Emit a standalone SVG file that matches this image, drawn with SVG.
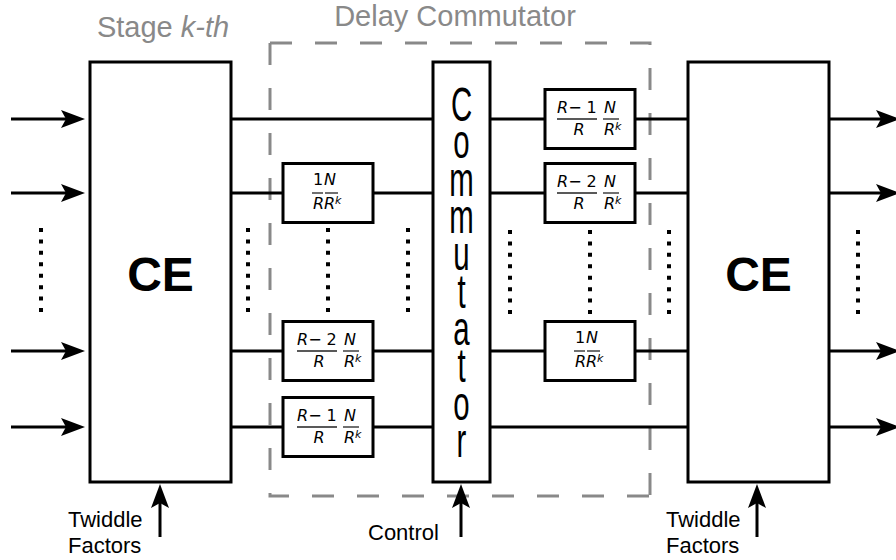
<svg xmlns="http://www.w3.org/2000/svg" width="896" height="560" viewBox="0 0 896 560">
  <style>
    .box { fill: #ffffff; stroke: #000000; stroke-width: 3; }
    .wire { fill: none; stroke: #000000; stroke-width: 3; }
    .dots { fill: none; stroke: #000000; stroke-width: 4; stroke-dasharray: 4 7.43; }
    .dash { fill: none; stroke: #898989; stroke-width: 3; stroke-dasharray: 22 23; }
    .bar { fill: none; stroke: #222222; stroke-width: 1.3; }
    .glabel { font-family: "Liberation Sans", Arial, sans-serif; font-size: 29px; fill: #898989; }
    .label { font-family: "Liberation Sans", Arial, sans-serif; font-size: 22px; fill: #000000; }
    .ce { font-family: "Liberation Sans", Arial, sans-serif; font-size: 48px; font-weight: bold; fill: #000000; text-anchor: middle; }
    .comm { font-family: "Liberation Sans", Arial, sans-serif; font-size: 49px; fill: #000000; text-anchor: middle; }
    .f { font-family: "DejaVu Sans", sans-serif; font-size: 16px; fill: #000000; }
    .fi { font-family: "DejaVu Sans", sans-serif; font-size: 16px; font-style: italic; fill: #000000; }
    .sup { font-family: "DejaVu Sans", sans-serif; font-size: 11px; font-style: italic; fill: #000000; }
  </style>
  <defs>
    <marker id="arrow" markerUnits="userSpaceOnUse" markerWidth="26" markerHeight="20" refX="12" refY="9" orient="auto" viewBox="0 0 26 20">
      <path d="M0,0 L24,9 L0,18 L5,9 Z" fill="#000000"/>
    </marker>
  </defs>

  <!-- labels -->
  <g id="label-stage">
    <text class="glabel" x="163" y="37" text-anchor="middle">Stage <tspan font-style="italic">k-th</tspan></text>
  </g>
  <g id="label-delay">
    <text class="glabel" x="455" y="26" text-anchor="middle">Delay Commutator</text>
  </g>
  <g id="delay-commutator-frame">
    <path class="dash" d="M270,43 H650 V496"/>
    <path class="dash" d="M270,43 V496 H650"/>
  </g>

  <!-- connectors -->
  <g id="connectors">
    <!-- inputs -->
    <line class="wire" x1="11" y1="119" x2="73" y2="119" marker-end="url(#arrow)"/>
    <line class="wire" x1="11" y1="193" x2="73" y2="193" marker-end="url(#arrow)"/>
    <line class="wire" x1="11" y1="351" x2="73" y2="351" marker-end="url(#arrow)"/>
    <line class="wire" x1="11" y1="427" x2="73" y2="427" marker-end="url(#arrow)"/>
    <!-- left CE to commutator -->
    <line class="wire" x1="231" y1="119" x2="433" y2="119"/>
    <line class="wire" x1="231" y1="193" x2="283" y2="193"/>
    <line class="wire" x1="373" y1="193" x2="433" y2="193"/>
    <line class="wire" x1="231" y1="351" x2="283" y2="351"/>
    <line class="wire" x1="373" y1="351" x2="433" y2="351"/>
    <line class="wire" x1="231" y1="427" x2="283" y2="427"/>
    <line class="wire" x1="373" y1="427" x2="433" y2="427"/>
    <!-- commutator to right CE -->
    <line class="wire" x1="490" y1="119" x2="545" y2="119"/>
    <line class="wire" x1="635" y1="119" x2="688" y2="119"/>
    <line class="wire" x1="490" y1="193" x2="545" y2="193"/>
    <line class="wire" x1="635" y1="193" x2="688" y2="193"/>
    <line class="wire" x1="490" y1="351" x2="545" y2="351"/>
    <line class="wire" x1="635" y1="351" x2="688" y2="351"/>
    <line class="wire" x1="490" y1="427" x2="688" y2="427"/>
    <!-- outputs -->
    <line class="wire" x1="829" y1="119" x2="888" y2="119" marker-end="url(#arrow)"/>
    <line class="wire" x1="829" y1="193" x2="888" y2="193" marker-end="url(#arrow)"/>
    <line class="wire" x1="829" y1="351" x2="888" y2="351" marker-end="url(#arrow)"/>
    <line class="wire" x1="829" y1="427" x2="888" y2="427" marker-end="url(#arrow)"/>
    <!-- control arrows -->
    <line class="wire" x1="160" y1="537" x2="160" y2="496" marker-end="url(#arrow)"/>
    <line class="wire" x1="461" y1="537" x2="461" y2="496" marker-end="url(#arrow)"/>
    <line class="wire" x1="757" y1="537" x2="757" y2="496" marker-end="url(#arrow)"/>
    <!-- ellipsis dots -->
    <line class="dots" x1="41" y1="228" x2="41" y2="313"/>
    <line class="dots" x1="248" y1="228" x2="248" y2="313"/>
    <line class="dots" x1="328" y1="228" x2="328" y2="313"/>
    <line class="dots" x1="408" y1="228" x2="408" y2="313"/>
    <line class="dots" x1="510" y1="230" x2="510" y2="315"/>
    <line class="dots" x1="590" y1="230" x2="590" y2="315"/>
    <line class="dots" x1="669" y1="230" x2="669" y2="315"/>
    <line class="dots" x1="858" y1="230" x2="858" y2="315"/>
  </g>

  <!-- CE blocks -->
  <g id="ce-left">
    <rect class="box" x="90" y="62" width="141" height="420"/>
    <text class="ce" x="160.5" y="291">CE</text>
  </g>
  <g id="ce-right">
    <rect class="box" x="688" y="62" width="141" height="420"/>
    <text class="ce" x="758.5" y="291">CE</text>
  </g>

  <!-- Commutator -->
  <g id="commutator">
    <rect class="box" x="433" y="62" width="57" height="420"/>
    <g transform="translate(461.5,0) scale(0.6,1)">
      <text class="comm"><tspan x="0" y="121">C</tspan><tspan x="0" y="158.5">o</tspan><tspan x="0" y="196">m</tspan><tspan x="0" y="233">m</tspan><tspan x="0" y="270.5">u</tspan><tspan x="0" y="308">t</tspan><tspan x="0" y="345">a</tspan><tspan x="0" y="382.5">t</tspan><tspan x="0" y="420">o</tspan><tspan x="0" y="457">r</tspan></text>
    </g>
  </g>

  <!-- Left delay boxes -->
  <g id="delay-l1">
    <rect class="box" x="283" y="163.5" width="90" height="59"/>
    <text class="f" x="313" y="185">1</text>
    <text class="fi" x="324" y="185">N</text>
    <line class="bar" x1="312" y1="193" x2="323" y2="193"/>
    <line class="bar" x1="325" y1="193" x2="338" y2="193"/>
    <text class="fi" x="313" y="209">R</text>
    <text class="fi" x="324" y="209">R</text>
    <text class="sup" x="335" y="204">k</text>
  </g>
  <g id="delay-l2">
    <rect class="box" x="283" y="321.5" width="90" height="59"/>
    <text class="f" x="297" y="345"><tspan font-style="italic">R</tspan>− 2</text>
    <line class="bar" x1="297" y1="351" x2="337" y2="351"/>
    <text class="fi" x="319" y="367" text-anchor="middle">R</text>
    <text class="fi" x="344" y="345">N</text>
    <line class="bar" x1="343" y1="351" x2="359" y2="351"/>
    <text class="fi" x="344" y="367">R</text>
    <text class="sup" x="355" y="362">k</text>
  </g>
  <g id="delay-l3">
    <rect class="box" x="283" y="397.5" width="90" height="59"/>
    <text class="f" x="297" y="421"><tspan font-style="italic">R</tspan>− 1</text>
    <line class="bar" x1="297" y1="427" x2="337" y2="427"/>
    <text class="fi" x="319" y="443" text-anchor="middle">R</text>
    <text class="fi" x="344" y="421">N</text>
    <line class="bar" x1="343" y1="427" x2="359" y2="427"/>
    <text class="fi" x="344" y="443">R</text>
    <text class="sup" x="355" y="438">k</text>
  </g>

  <!-- Right delay boxes -->
  <g id="delay-r1">
    <rect class="box" x="545" y="89.5" width="90" height="59"/>
    <text class="f" x="557" y="113"><tspan font-style="italic">R</tspan>− 1</text>
    <line class="bar" x1="557" y1="119" x2="597" y2="119"/>
    <text class="fi" x="579" y="135" text-anchor="middle">R</text>
    <text class="fi" x="604" y="113">N</text>
    <line class="bar" x1="603" y1="119" x2="619" y2="119"/>
    <text class="fi" x="604" y="135">R</text>
    <text class="sup" x="615" y="130">k</text>
  </g>
  <g id="delay-r2">
    <rect class="box" x="545" y="163.5" width="90" height="59"/>
    <text class="f" x="557" y="187"><tspan font-style="italic">R</tspan>− 2</text>
    <line class="bar" x1="557" y1="193" x2="597" y2="193"/>
    <text class="fi" x="579" y="209" text-anchor="middle">R</text>
    <text class="fi" x="604" y="187">N</text>
    <line class="bar" x1="603" y1="193" x2="619" y2="193"/>
    <text class="fi" x="604" y="209">R</text>
    <text class="sup" x="615" y="204">k</text>
  </g>
  <g id="delay-r3">
    <rect class="box" x="545" y="321.5" width="90" height="59"/>
    <text class="f" x="575" y="343">1</text>
    <text class="fi" x="586" y="343">N</text>
    <line class="bar" x1="574" y1="351" x2="585" y2="351"/>
    <line class="bar" x1="587" y1="351" x2="600" y2="351"/>
    <text class="fi" x="575" y="367">R</text>
    <text class="fi" x="586" y="367">R</text>
    <text class="sup" x="597" y="362">k</text>
  </g>

  <!-- bottom labels -->
  <g id="label-twiddle-left">
    <text class="label" x="68" y="527">Twiddle</text>
    <text class="label" x="68" y="553">Factors</text>
  </g>
  <g id="label-control">
    <text class="label" x="368" y="540">Control</text>
  </g>
  <g id="label-twiddle-right">
    <text class="label" x="666" y="527">Twiddle</text>
    <text class="label" x="666" y="553">Factors</text>
  </g>
</svg>
